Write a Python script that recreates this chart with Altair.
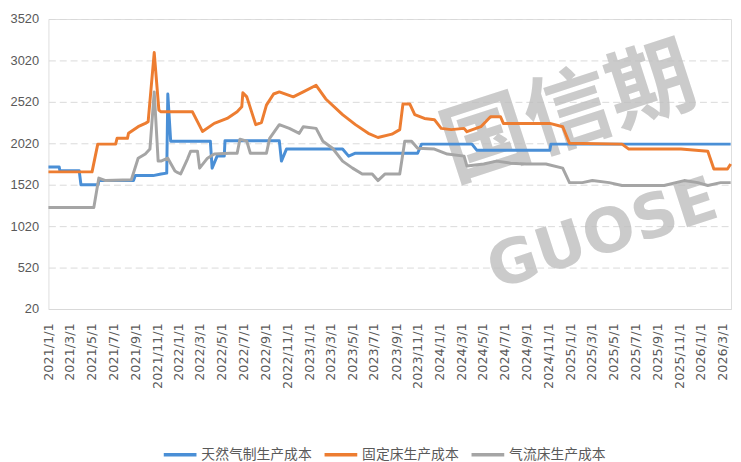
import altair as alt
import pandas as pd

S_BLUE = "天然气制生产成本"
S_ORANGE = "固定床生产成本"
S_GRAY = "气流床生产成本"

blue_dates = ["2021-01-01", "2021-01-31", "2021-02-02", "2021-03-28", "2021-04-02", "2021-05-20",
              "2021-05-22", "2021-08-27", "2021-09-01", "2021-10-21", "2021-11-12", "2021-11-28",
              "2021-12-01", "2021-12-09", "2022-03-30", "2022-04-04", "2022-04-18", "2022-05-08",
              "2022-05-10", "2022-10-09", "2022-10-15", "2022-10-29", "2023-04-04", "2023-04-21",
              "2023-05-10", "2023-10-31", "2023-11-11", "2024-03-31", "2024-04-14", "2024-11-04",
              "2024-11-07", "2026-03-25"]
blue_values = [1735, 1735, 1690, 1690, 1520, 1520,
               1570, 1570, 1630, 1630, 1650, 1660,
               2615, 2045, 2045, 1720, 1865, 1865,
               2050, 2050, 1805, 1950, 1950, 1865,
               1900, 1900, 2010, 2010, 1935, 1935,
               2010, 2010]

orange_dates = ["2021-01-01", "2021-05-03", "2021-05-19", "2021-07-08", "2021-07-12", "2021-08-10",
                "2021-08-13", "2021-09-09", "2021-09-29", "2021-10-07", "2021-10-24", "2021-11-06",
                "2021-11-12", "2022-02-08", "2022-03-08", "2022-04-10", "2022-05-16", "2022-06-13",
                "2022-06-26", "2022-06-29", "2022-07-10", "2022-08-04", "2022-08-20", "2022-09-03",
                "2022-09-23", "2022-10-09", "2022-11-17", "2022-12-15", "2023-01-20", "2023-02-16",
                "2023-04-04", "2023-05-10", "2023-06-15", "2023-07-12", "2023-08-20", "2023-09-11",
                "2023-09-20", "2023-10-09", "2023-10-23", "2023-11-19", "2023-12-17", "2024-01-05",
                "2024-02-02", "2024-03-09", "2024-03-17", "2024-04-25", "2024-05-22", "2024-06-19",
                "2024-06-27", "2024-11-04", "2024-12-10", "2024-12-29", "2025-05-25", "2025-06-13",
                "2025-11-06", "2026-01-20", "2026-02-06", "2026-03-16", "2026-03-25"]
orange_values = [1675, 1675, 2010, 2010, 2080, 2080,
                 2140, 2220, 2260, 2280, 3115, 2420,
                 2400, 2400, 2163, 2260, 2320, 2400,
                 2460, 2630, 2580, 2245, 2270, 2480,
                 2615, 2640, 2580, 2640, 2720, 2555,
                 2365, 2245, 2140, 2090, 2130, 2185,
                 2495, 2495, 2365, 2320, 2305, 2200,
                 2185, 2200, 2160, 2220, 2340, 2340,
                 2260, 2260, 2220, 2020, 2010, 1950,
                 1950, 1925, 1710, 1710, 1770]

gray_dates = ["2021-01-01", "2021-05-08", "2021-05-22", "2021-06-10", "2021-08-21", "2021-09-09",
              "2021-09-29", "2021-10-12", "2021-10-24", "2021-11-04", "2021-11-12", "2021-12-01",
              "2021-12-21", "2021-12-29", "2022-01-06", "2022-01-25", "2022-02-03", "2022-02-22",
              "2022-02-28", "2022-03-22", "2022-04-10", "2022-05-24", "2022-06-13", "2022-06-21",
              "2022-07-10", "2022-07-20", "2022-09-03", "2022-09-12", "2022-10-09", "2022-11-06",
              "2022-12-04", "2022-12-15", "2023-01-20", "2023-02-08", "2023-03-07", "2023-04-04",
              "2023-05-02", "2023-05-29", "2023-06-26", "2023-07-12", "2023-08-01", "2023-09-11",
              "2023-09-25", "2023-10-14", "2023-10-31", "2023-12-17", "2024-01-22", "2024-03-09",
              "2024-03-17", "2024-05-03", "2024-06-08", "2024-07-17", "2024-08-30", "2024-10-24",
              "2024-12-10", "2024-12-29", "2025-02-03", "2025-03-03", "2025-04-19", "2025-05-25",
              "2025-09-20", "2025-11-15", "2025-12-23", "2026-01-20", "2026-02-25", "2026-03-25"]
gray_values = [1245, 1245, 1600, 1570, 1580, 1840,
               1890, 1950, 2640, 1805, 1805, 1840,
               1685, 1665, 1650, 1830, 1925, 1925,
               1720, 1840, 1890, 1900, 1900, 2070,
               2045, 1900, 1900, 2080, 2245, 2200,
               2140, 2220, 2200, 2045, 1960, 1805,
               1720, 1650, 1650, 1570, 1650, 1650,
               2045, 2045, 1960, 1950, 1890, 1865,
               1745, 1770, 1805, 1780, 1770, 1770,
               1720, 1545, 1545, 1570, 1545, 1510,
               1510, 1570, 1545, 1510, 1545, 1545]

y_ticks = [20, 520, 1020, 1520, 2020, 2520, 3020, 3520]
series_names = [S_BLUE, S_ORANGE, S_GRAY]
series_colors = ["#4A8FD6", "#ED7D31", "#A5A5A5"]
watermark_cn = ["国信期"]
watermark_en = ["GUOSE"]

rows = []
for name, ds, vs in [(S_BLUE, blue_dates, blue_values),
                     (S_ORANGE, orange_dates, orange_values),
                     (S_GRAY, gray_dates, gray_values)]:
    for i, (d, v) in enumerate(zip(ds, vs)):
        rows.append({"date": d, "value": v, "series": name, "order": i})
df = pd.DataFrame(rows)

wm_cn = alt.Chart(pd.DataFrame({"t": watermark_cn})).mark_text(
    font="Noto Sans CJK SC", fontWeight="bold", fontSize=88, angle=342,
    color="#BFBFBF", opacity=0.8, align="center", baseline="middle"
).encode(x=alt.value(528), y=alt.value(98), text="t:N")

wm_en = alt.Chart(pd.DataFrame({"t": watermark_en})).mark_text(
    font="DejaVu Sans", fontWeight="bold", fontSize=62, angle=342,
    color="#BFBFBF", opacity=0.8, align="center", baseline="middle"
).encode(x=alt.value(562), y=alt.value(219), text="t:N")

lines = alt.Chart(df).mark_line(strokeWidth=3, strokeJoin="round").encode(
    x=alt.X("date:T",
            scale=alt.Scale(type="utc", domain=[{"year": 2021, "month": 1, "date": 1, "utc": True},
                                                {"year": 2026, "month": 3, "date": 26, "utc": True}],
                            nice=False),
            axis=alt.Axis(title=None, tickCount={"interval": "month", "step": 2},
                          labelExpr="utcFormat(datum.value, '%Y/%-m/%-d')",
                          labelAngle=-90, labelFontSize=13, labelColor="#595959",
                          labelFont="DejaVu Sans", labelPadding=14,
                          ticks=False, grid=False, domainColor="#D9D9D9", domainWidth=1,
                          labelOverlap=False, labelFlush=False)),
    y=alt.Y("value:Q",
            scale=alt.Scale(domain=[20, 3520], nice=False, zero=False),
            axis=alt.Axis(title=None, values=y_ticks, format="d", labelFontSize=13,
                          labelColor="#595959",
                          labelFont="Liberation Sans", labelPadding=10, ticks=False, domain=False,
                          gridColor="#D9D9D9", gridDash=[7, 4], gridWidth=1,
                          minExtent=38, maxExtent=38)),
    color=alt.Color("series:N",
                    scale=alt.Scale(domain=series_names, range=series_colors),
                    legend=alt.Legend(title=None, orient="none", legendX=115, legendY=423,
                                      direction="horizontal", symbolType="stroke",
                                      symbolSize=1100, symbolStrokeWidth=3.5,
                                      labelFontSize=14, labelColor="#595959",
                                      labelFont="Noto Sans CJK SC", labelOffset=3,
                                      columnPadding=5)),
    order="order:Q",
)

chart = alt.layer(wm_cn, wm_en, lines).properties(
    width=692, height=294,
    padding={"left": 2, "top": 2, "right": 0, "bottom": 0},
).configure_view(stroke=None).configure(background="white")

chart.save("out.html", embed_options={"renderer": "svg", "actions": False})
